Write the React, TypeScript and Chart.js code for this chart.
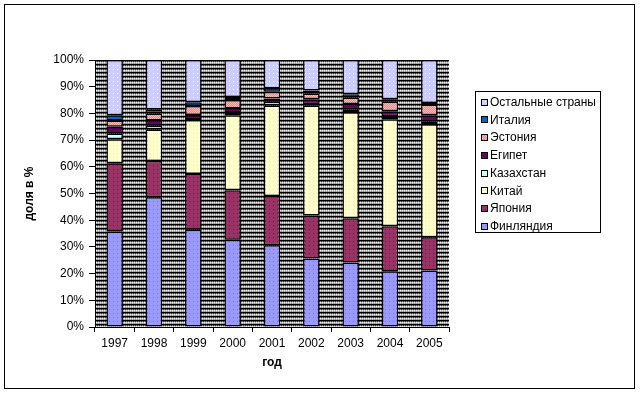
import React, { useEffect, useRef } from 'react';
import { Chart, registerables } from 'chart.js';

Chart.register(...registerables);

const years = ['1997', '1998', '1999', '2000', '2001', '2002', '2003', '2004', '2005'];
const finland = [35.8, 48.6, 36.4, 32.7, 30.6, 25.7, 24.2, 20.9, 21.2];
const japan = [25.5, 13.6, 20.9, 18.5, 18.5, 16.1, 16.5, 16.8, 12.4];
const china = [9.0, 11.8, 20.2, 28.1, 33.9, 41.2, 39.7, 40.1, 42.3];
const kazakhstan = [2.2, 1.4, 0.4, 1.0, 1.4, 0.4, 1.1, 1.1, 1.1];
const egypt = [2.5, 2.0, 1.5, 1.6, 1.2, 1.9, 2.0, 1.9, 2.3];
const estonia = [2.3, 2.6, 3.4, 3.1, 2.5, 2.2, 2.5, 3.7, 4.0];
const italy = [2.0, 1.5, 1.4, 1.1, 1.3, 1.1, 1.2, 0.8, 0.6];
const rest = [20.7, 18.5, 15.8, 13.9, 10.6, 11.4, 12.8, 14.7, 16.1];
const yTicks = [0, 10, 20, 30, 40, 50, 60, 70, 80, 90, 100];

const FONT = '"Liberation Sans", Arial, sans-serif';

function makePattern(base: string, dot: string | null, kind: 'dots' | 'checker' | 'solid') {
  const c = document.createElement('canvas');
  const s = kind === 'checker' ? 2 : 4;
  c.width = s;
  c.height = s;
  const g = c.getContext('2d')!;
  g.fillStyle = base;
  g.fillRect(0, 0, s, s);
  if (dot && kind === 'dots') {
    g.fillStyle = dot;
    g.fillRect(1, 1, 1, 1);
  }
  if (dot && kind === 'checker') {
    g.fillStyle = dot;
    g.fillRect(0, 0, 1, 1);
    g.fillRect(1, 1, 1, 1);
  }
  return g.createPattern(c, 'repeat')!;
}

function makeHatch() {
  const c = document.createElement('canvas');
  c.width = 4;
  c.height = 4;
  const g = c.getContext('2d')!;
  g.fillStyle = '#b4b4b4';
  g.fillRect(0, 0, 4, 4);
  g.fillStyle = '#000000';
  g.fillRect(0, 0, 4, 1);
  g.fillStyle = '#7a7a7a';
  g.fillRect(0, 1, 4, 1);
  g.fillStyle = '#303030';
  g.fillRect(1, 1, 1, 1);
  g.fillRect(3, 1, 1, 1);
  g.fillStyle = '#eeeeee';
  g.fillRect(0, 2, 1, 1);
  g.fillRect(2, 2, 1, 1);
  g.fillStyle = '#909090';
  g.fillRect(1, 3, 1, 1);
  g.fillRect(3, 3, 1, 1);
  return g.createPattern(c, 'repeat')!;
}

export default function App() {
  const ref = useRef<HTMLCanvasElement | null>(null);

  useEffect(() => {
    document.body.style.margin = '0';
    const canvas = ref.current!;
    const hatch = makeHatch();

    const series = [
      { label: 'Финляндия', data: finland, bg: makePattern('#9999FF', '#7777dd', 'dots') },
      { label: 'Япония', data: japan, bg: makePattern('#993366', '#6a2040', 'dots') },
      { label: 'Китай', data: china, bg: makePattern('#FFFFCC', '#eeeeaa', 'dots') },
      { label: 'Казахстан', data: kazakhstan, bg: makePattern('#CCFFFF', null, 'solid') },
      { label: 'Египет', data: egypt, bg: makePattern('#660066', null, 'solid') },
      { label: 'Эстония', data: estonia, bg: makePattern('#FF8080', '#ffc0c0', 'checker') },
      { label: 'Италия', data: italy, bg: makePattern('#0066CC', null, 'solid') },
      { label: 'Остальные страны', data: rest, bg: makePattern('#CCCCFF', '#ffffff', 'dots') },
    ];

    const bgPlugin = {
      id: 'bgPlugin',
      beforeDraw(chart: any) {
        const { ctx, chartArea } = chart;
        ctx.save();
        ctx.fillStyle = '#ffffff';
        ctx.fillRect(0, 0, chart.width, chart.height);
        ctx.strokeStyle = '#000';
        ctx.lineWidth = 1;
        ctx.strokeRect(4.5, 4.5, 630, 384);
        ctx.fillStyle = hatch;
        ctx.fillRect(chartArea.left, chartArea.top, chartArea.right - chartArea.left, chartArea.bottom - chartArea.top);
        ctx.restore();
      },
      afterDraw(chart: any) {
        const { ctx } = chart;
        const ds = chart.data.datasets.slice().reverse();
        const bx = 475.5, by = 91.5, bw = 125, bh = 141;
        ctx.save();
        ctx.fillStyle = '#ffffff';
        ctx.fillRect(bx, by, bw, bh);
        ctx.strokeStyle = '#000';
        ctx.lineWidth = 1;
        ctx.strokeRect(bx, by, bw, bh);
        ctx.font = '12px ' + FONT;
        ctx.textBaseline = 'middle';
        ctx.textAlign = 'left';
        ds.forEach((d: any, i: number) => {
          const cy = 102.5 + i * 17.75;
          ctx.fillStyle = d.backgroundColor;
          ctx.fillRect(481.5, Math.round(cy) - 3.5, 6, 6);
          ctx.strokeStyle = '#000';
          ctx.strokeRect(481.5, Math.round(cy) - 3.5, 6, 6);
          ctx.fillStyle = '#000';
          ctx.fillText(d.label, 490, cy);
        });
        ctx.restore();
      },
    };

    const chart = new Chart(canvas, {
      type: 'bar',
      data: {
        labels: years,
        datasets: series.map((s) => ({
          label: s.label,
          data: s.data,
          backgroundColor: s.bg,
          borderColor: '#000000',
          borderWidth: 1.5,
          borderSkipped: false,
          barPercentage: 0.42,
          categoryPercentage: 1,
        })),
      },
      options: {
        responsive: false,
        animation: false,
        devicePixelRatio: 1,
        layout: { padding: { left: 0, top: 60, right: 193, bottom: 0 } },
        plugins: {
          legend: { display: false },
          tooltip: { enabled: false },
        },
        scales: {
          x: {
            stacked: true,
            afterFit: (scale: any) => {
              scale.height = 69;
            },
            grid: {
              display: true,
              offset: true,
              drawOnChartArea: false,
              drawTicks: true,
              tickLength: 5,
              color: '#000',
            },
            border: { display: true, color: '#000', width: 1 },
            ticks: {
              color: '#000',
              padding: 4,
              font: { family: FONT, size: 12 },
              maxRotation: 0,
            },
            title: {
              display: true,
              text: 'год',
              color: '#000',
              font: { family: FONT, size: 12, weight: 'bold' },
              padding: { top: 0, bottom: 26 },
            },
          },
          y: {
            stacked: true,
            min: 0,
            max: 100,
            afterFit: (scale: any) => {
              scale.width = 95;
            },
            afterBuildTicks: (scale: any) => {
              scale.ticks = yTicks.map((v) => ({ value: v }));
            },
            grid: {
              display: true,
              drawOnChartArea: false,
              drawTicks: true,
              tickLength: 6,
              color: '#000',
            },
            border: { display: true, color: '#000', width: 1 },
            ticks: {
              color: '#000',
              padding: 5,
              font: { family: FONT, size: 12 },
              callback: (v: any) => v + '%',
            },
            title: {
              display: true,
              text: 'доля в %',
              color: '#000',
              font: { family: FONT, size: 12, weight: 'bold' },
              padding: { top: 22, bottom: 0 },
            },
          },
        },
      },
      plugins: [bgPlugin],
    } as any);

    return () => {
      chart.destroy();
    };
  }, []);

  return <canvas ref={ref} width={642} height={396} style={{ display: 'block' }} />;
}
